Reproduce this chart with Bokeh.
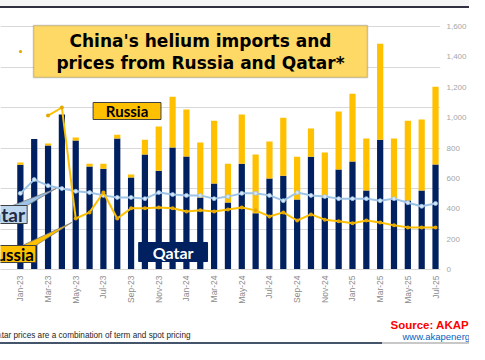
import math
from bokeh.plotting import figure
from bokeh.layouts import column
from bokeh.models import (Range1d, FixedTicker, NumeralTickFormatter, Label, Div,
                          BoxAnnotation, ColumnDataSource, Legend, LegendItem)
from bokeh.embed import file_html
from bokeh.resources import INLINE

NaN = float("nan")

months = ["Jan-23", "Feb-23", "Mar-23", "Apr-23", "May-23", "Jun-23", "Jul-23", "Aug-23",
          "Sep-23", "Oct-23", "Nov-23", "Dec-23", "Jan-24", "Feb-24", "Mar-24", "Apr-24",
          "May-24", "Jun-24", "Jul-24", "Aug-24", "Sep-24", "Oct-24", "Nov-24", "Dec-24",
          "Jan-25", "Feb-25", "Mar-25", "Apr-25", "May-25", "Jun-25", "Jul-25"]

# import volumes (right axis)
qatar_volume = [690, 860, 816, 1020, 849, 678, 664, 862, 605, 757, 651, 803,
                744, 474, 566, 441, 697, 370, 599, 618, 461, 743, 474, 658,
                711, 520, 855, 467, 454, 520, 691]
russia_volume = [14, 0, 13, 0, 20, 19, 33, 26, 20, 98, 290, 335,
                 309, 362, 414, 256, 323, 387, 243, 382, 282, 185, 296, 382,
                 447, 342, 632, 395, 526, 467, 513]

# prices (left scale)
qatar_price = [18.8, 22.2, 20.7, 20.0, 19.3, 19.0, 18.3, 17.8, 17.8, 17.5, 19.0, 18.5,
               18.3, 18.3, 17.5, 18.0, 18.8, 18.8, 18.3, 17.0, 19.0, 18.3, 18.0, 17.5,
               17.5, 17.5, 17.0, 17.5, 16.5, 15.6, 16.3]
russia_price = [NaN, NaN, 38.0, 40.0, 12.6, 14.1, 19.0, 12.6, 15.1, 15.1, 15.3, 15.1,
                14.3, 14.6, 14.3, 14.8, 15.3, 14.6, 13.1, 14.1, 12.1, 13.6, 12.3, 11.9,
                11.4, 12.1, 11.6, 10.9, 10.4, 10.4, 10.4]

tick_positions = list(range(0, len(months), 2))
volume_ticks = list(range(0, 1601, 200))

NAVY = "#002060"
GOLD = "#FFC000"
LIGHTBLUE = "#9DC3E6"

TOP = 8                              # height of the header strip (slide border)
VOL_TOP = 1600 * (269 - TOP) / 243   # frame reaches the header strip
PRICE_TOP = 60 * (269 - TOP) / 243

# header strip: slide top border line
header = Div(text="", width=469, height=TOP,
             styles={"background": "linear-gradient(to bottom, #F5F5F5 6px, #2F3140 6px)",
                     "margin": "0", "padding": "0"})

src = ColumnDataSource(dict(x=list(range(len(months))), qatar=qatar_volume,
                            russia=russia_volume, qp=qatar_price, rp=russia_price))

p = figure(width=469, height=312 - TOP, output_backend="svg", toolbar_location=None,
           x_range=Range1d(-1.436, 30.36), y_range=Range1d(0, VOL_TOP),
           y_axis_location="right", min_border_left=0, min_border_top=0,
           min_border_bottom=43, min_border_right=26)
p.extra_y_ranges = {"price": Range1d(0, PRICE_TOP)}
p.outline_line_color = None
p.background_fill_color = "white"
p.border_fill_color = "white"

p.xgrid.visible = False
p.ygrid.ticker = FixedTicker(ticks=[i * 1600 / 6 for i in range(7)])
p.ygrid.grid_line_color = "#D9D9D9"

ya = p.yaxis[0]
ya.ticker = FixedTicker(ticks=volume_ticks)
ya.formatter = NumeralTickFormatter(format="0,0")
ya.axis_line_color = None
ya.major_tick_line_color = None
ya.minor_tick_line_color = None
ya.major_tick_out = 0
ya.major_label_text_color = "#A6A6A6"
ya.major_label_text_font = "Liberation Sans"
ya.major_label_text_font_size = "8px"
ya.major_label_standoff = 6

xa = p.xaxis[0]
xa.ticker = FixedTicker(ticks=tick_positions)
xa.major_label_overrides = {i: months[i] for i in tick_positions}
xa.major_label_orientation = math.pi / 2
xa.major_label_text_color = "#8C8C8C"
xa.major_label_text_font = "Liberation Sans"
xa.major_label_text_font_size = "8.5px"
xa.major_label_standoff = 6
xa.major_tick_out = 0
xa.axis_line_color = "#D9D9D9"
xa.major_tick_line_color = None
xa.minor_tick_line_color = None


def dx(px):
    return (px - 20) / 14.27


def dy(py):
    return (269 - py) * 1600 / 243


p.vbar_stack(["qatar", "russia"], x="x", width=0.45, source=src,
             fill_color=[NAVY, GOLD], line_color=None)

p.line("x", "qp", source=src, y_range_name="price", color=LIGHTBLUE, line_width=2)
p.scatter("x", "qp", source=src, y_range_name="price", size=4,
          fill_color="#D6E6F5", line_color=LIGHTBLUE, line_width=0.8)
p.line("x", "rp", source=src, y_range_name="price", color=GOLD, line_width=2)
r_pts = p.scatter("x", "rp", source=src, y_range_name="price", size=4,
                  fill_color="#E5A800", line_color=None)

# callout wedges
p.patches(xs=[[dx(12), dx(27), dx(57)], [dx(22), dx(36), dx(73)]],
          ys=[[dy(205), dy(205), dy(188)], [dy(245), dy(245), dy(222)]],
          fill_color=[LIGHTBLUE, GOLD], line_color="#7F7F7F", line_width=0.8)

# label boxes (in-plot and the two cut-off callouts at the left edge)
p.quad(left=[dx(95), dx(142), dx(-6), dx(-6)], right=[dx(165), dx(213), dx(27), dx(36)],
       top=[dy(102), dy(242), dy(205), dy(245)], bottom=[dy(119), dy(261), dy(223), dy(262)],
       fill_color=[GOLD, NAVY, "#BDD7EE", GOLD],
       line_color=["#404040", NAVY, "#404040", "#404040"], line_width=1)

legend = Legend(items=[LegendItem(label=" ", renderers=[r_pts])],
                location=(16, 214), glyph_width=8, glyph_height=8, padding=0, margin=0,
                label_standoff=2, border_line_color=None, background_fill_alpha=0,
                label_text_font_size="9px")
p.add_layout(legend, "center")

C = dict(x_units="canvas", y_units="canvas")
B = dict(left_units="canvas", right_units="canvas", top_units="canvas", bottom_units="canvas")

p.add_layout(BoxAnnotation(left=33, right=367, top=25 - TOP, bottom=77 - TOP, level="overlay",
                           fill_color="#FFD966", fill_alpha=1.0,
                           line_color="#595959", line_width=1.5, **B))

for txt, yy in [("China's helium imports and", 40), ("prices from Russia and Qatar*", 62)]:
    p.add_layout(Label(x=200, y=yy - TOP, text=txt, text_align="center", level="overlay",
                       text_baseline="middle", text_font="DejaVu Sans",
                       text_font_style="bold", text_font_size="17px", text_color="black", **C))

p.add_layout(Label(x=dx(130), y=dy(110.5), text="Russia", text_align="center",
                   text_baseline="middle", text_font="Lato", text_font_style="bold",
                   text_font_size="15px", text_color="black"))
p.add_layout(Label(x=dx(177.5), y=dy(251.5), text="Qatar", text_align="center",
                   text_baseline="middle", text_font="Lato", text_font_style="bold",
                   text_font_size="16px", text_color="white"))

p.add_layout(Label(x=24.5, y=214 - TOP, text="Qatar", text_align="right",
                   text_baseline="middle", text_font="Lato", text_font_style="bold",
                   text_font_size="19px", text_color="#1F2A44", **C))
p.add_layout(Label(x=33.5, y=253.5 - TOP, text="Russia", text_align="right",
                   text_baseline="middle", text_font="Lato", text_font_style="bold",
                   text_font_size="17px", text_color="black", **C))

# footer strip (slide footnote and source), in slide pixel coordinates
f = figure(width=469, height=30, output_backend="svg", toolbar_location=None,
           x_range=Range1d(0, 469), y_range=Range1d(342, 312),
           x_axis_location=None, y_axis_location=None, min_border=0)
f.outline_line_color = None
for g in f.grid:
    g.visible = False

for fig in (p, f):
    try:
        fig.frame_align = False
    except Exception:
        pass

f.add_layout(Label(x=190, y=335, text="*Qatar prices are a combination of term and spot pricing",
                   text_align="right", text_baseline="middle",
                   text_font="Liberation Sans", text_font_size="8.2px",
                   text_color="#262626"))
f.add_layout(Label(x=390, y=324, text="Source: AKAP Energy", text_align="left",
                   text_baseline="middle", text_font="Liberation Sans",
                   text_font_style="bold", text_font_size="11.5px", text_color="#FF0000"))
f.add_layout(Label(x=402, y=336, text="www.akapenergy.com", text_align="left",
                   text_baseline="middle", text_font="Liberation Sans",
                   text_font_size="9.5px", text_color="#0563C1"))

# bottom border line of the slide
bottom_rule = Div(text="", width=469, height=2,
                  styles={"background": "linear-gradient(to right, #44546A 382px, #C8C8C8 382px)",
                          "margin": "0", "padding": "0"})

open("out.html", "w").write(file_html(column(header, p, f, bottom_rule, spacing=0), INLINE))
